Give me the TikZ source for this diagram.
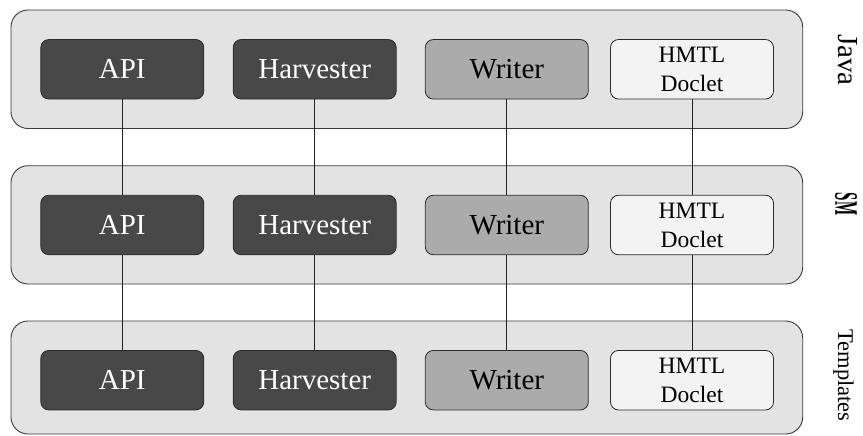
\documentclass[tikz,border=0pt]{standalone}
\usepackage{fontspec}
\setmainfont{Liberation Serif}
\definecolor{layerfill}{HTML}{E3E3E3}
\definecolor{layerline}{HTML}{3A3A3A}
\definecolor{darkfill}{HTML}{484848}
\definecolor{midfill}{HTML}{ABABAB}
\definecolor{lightfill}{HTML}{F3F3F3}
\definecolor{boxline}{HTML}{2A2A2A}
\definecolor{linkline}{HTML}{222222}
\begin{document}
\begin{tikzpicture}[x=1pt,y=-1pt,
  layer/.style={draw=layerline, fill=layerfill, line width=0.9pt,
    rounded corners=17pt, minimum width=791.7pt, inner sep=0pt},
  mod/.style={draw=boxline, line width=0.8pt, rounded corners=8pt,
    minimum width=163pt, minimum height=59.5pt, inner sep=0pt,
    font=\fontsize{29}{34}\selectfont},
  dark/.style={mod, fill=darkfill, text=white},
  mid/.style={mod, fill=midfill},
  light/.style={mod, fill=lightfill, align=center,
    font=\fontsize{23.5}{29}\selectfont},
  link/.style={draw=linkline, line width=0.8pt},
  side/.style={rotate=-90, inner sep=0pt}
]
\useasboundingbox (0,0) rectangle (863,436);
\fill[white] (0,0) rectangle (863,436);

% the three layers
\node[layer, minimum height=118.5pt] (java) at (406.85,69.25) {};
\node[layer, minimum height=118.3pt] (sm)   at (406.85,224.85) {};
\node[layer, minimum height=113pt]   (tpl)  at (406.85,377.5) {};

% layer names
\node[side, font=\fontsize{29}{29}\selectfont] (ljava) at (848,60) {Java};
\node[side, font=\bfseries] (lsm) at (846,204) {\resizebox{22.5pt}{21.7pt}{SM}};
\node[side, font=\fontsize{22.5}{22.5}\selectfont] (ltpl) at (843.5,375.5) {Templates};

% modules, one row per layer
\foreach \r/\y in {1/69.3, 2/225, 3/380.2} {
  \node[dark]  (api\r)  at (122.3,\y) {API};
  \node[dark]  (harv\r) at (314.7,\y) {Harvester};
  \node[mid]   (wri\r)  at (506.8,\y) {Writer};
  \node[light] (doc\r)  at (692,\y)   {HMTL\\Doclet};
}

% vertical links between corresponding modules
\foreach \m in {api,harv,wri,doc} {
  \draw[link] (\m1.south) -- (\m2.north);
  \draw[link] (\m2.south) -- (\m3.north);
}
\end{tikzpicture}
\end{document}
